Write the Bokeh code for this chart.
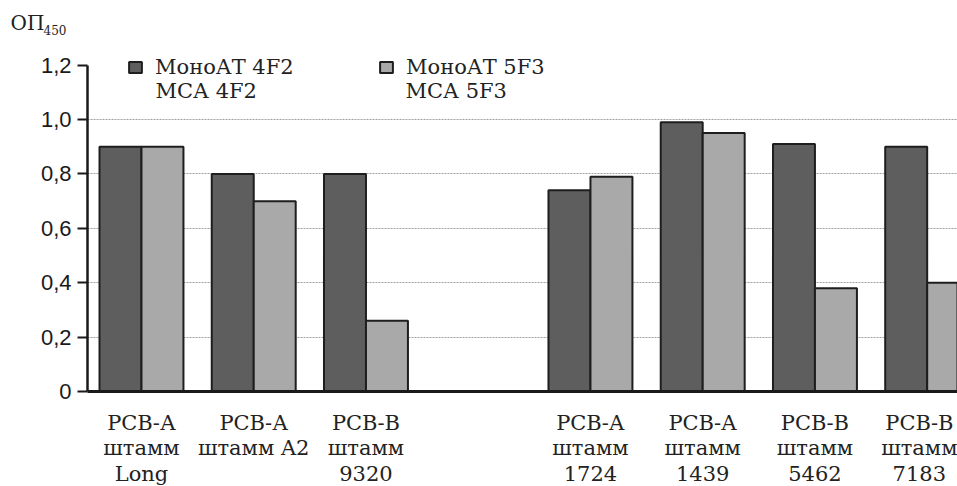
from bokeh.plotting import figure
from bokeh.models import (Range1d, FixedTicker, Label, Legend, LegendItem, LinearAxis,
                          ColumnDataSource, CustomJSTickFormatter, Grid)
from bokeh.transform import dodge
from bokeh.embed import file_html
from bokeh.resources import INLINE

# ---- data ----
categories = ["РСВ-А\nштамм\nLong", "РСВ-А\nштамм A2", "РСВ-В\nштамм\n9320",
              "РСВ-А\nштамм\n1724", "РСВ-А\nштамм\n1439", "РСВ-В\nштамм\n5462",
              "РСВ-В\nштамм\n7183"]
slots = [0, 1, 2, 4, 5, 6, 7]          # slot 3 is an empty gap in the original
mono_4f2 = [0.90, 0.80, 0.80, 0.74, 0.99, 0.91, 0.90]
mono_5f3 = [0.90, 0.70, 0.26, 0.79, 0.95, 0.38, 0.40]
y_ticks = [0, 0.2, 0.4, 0.6, 0.8, 1.0, 1.2]
grid_ticks = [0.2, 0.4, 0.6, 0.8, 1.0]
series_names = ["МоноАТ 4F2", "МоноАТ 5F3"]
series_second = ["МСА 4F2", "МСА 5F3"]

src = ColumnDataSource(dict(x=slots, a=mono_4f2, b=mono_5f3))

SERIF = "DejaVu Serif"
SANS = "Liberation Sans"
INK = "#222222"

W, H = 957, 486
X0, X1 = -1.256, 7.27
Y0, Y1 = -0.349, 1.4375
AX = -0.481

p = figure(width=W, height=H, output_backend="svg", toolbar_location=None,
           x_range=Range1d(X0, X1), y_range=Range1d(Y0, Y1),
           x_axis_location=None, y_axis_location=None,
           min_border_left=0, min_border_right=0, min_border_top=0,
           min_border_bottom=0)
p.outline_line_color = None
p.background_fill_color = "white"
p.xgrid.visible = False
p.ygrid.visible = False

yg = Grid(dimension=1, ticker=FixedTicker(ticks=grid_ticks), grid_line_color="#a0a0a0",
          grid_line_dash="2 1", grid_line_width=1.2)
try:
    yg.cross_bounds = (AX, X1)
except Exception:
    pass
p.add_layout(yg)

bw = 0.374
r1 = p.vbar(x=dodge('x', -bw / 2), top='a', width=bw, source=src,
            fill_color="#5e5e5e", line_color="#1e1e1e", line_width=2)
r2 = p.vbar(x=dodge('x', bw / 2), top='b', width=bw, source=src,
            fill_color="#a9a9a9", line_color="#1e1e1e", line_width=2)

# y axis
yax = LinearAxis(fixed_location=AX, bounds=(0, 1.2))
yax.ticker = FixedTicker(ticks=y_ticks)
yax.formatter = CustomJSTickFormatter(
    code="return tick == 0 ? '0' : tick.toFixed(1).replace('.', ',');")
yax.axis_line_width = 2.5
yax.axis_line_color = "#1a1a1a"
yax.major_tick_line_width = 2
yax.major_tick_line_color = "#1a1a1a"
yax.major_tick_out = 10
yax.major_tick_in = 0
yax.minor_tick_line_color = None
yax.major_label_text_font = SANS
yax.major_label_text_font_size = "22px"
yax.major_label_text_color = "#1a1a1a"
yax.major_label_standoff = 6
p.add_layout(yax, "left")

# x axis
xax = LinearAxis(fixed_location=0, bounds=(AX, X1))
xax.ticker = FixedTicker(ticks=slots)
xax.formatter = CustomJSTickFormatter(
    args=dict(labels=categories, pos=slots),
    code="const i = pos.indexOf(Math.round(tick)); return i >= 0 ? labels[i] : '';")
xax.axis_line_width = 3
xax.axis_line_color = "#1a1a1a"
xax.major_tick_line_color = None
xax.minor_tick_line_color = None
xax.major_label_text_font = SERIF
xax.major_label_text_font_size = "21px"
xax.major_label_text_color = INK
xax.major_label_text_line_height = 1.08
xax.major_label_standoff = 13
p.add_layout(xax, "below")

# legends
for r, name, xloc in [(r1, series_names[0], 127), (r2, series_names[1], 378)]:
    leg = Legend(items=[LegendItem(label=name, renderers=[r])], location=(xloc, 407),
                 border_line_color=None, background_fill_alpha=0, padding=0, margin=0,
                 glyph_width=16, glyph_height=14, label_standoff=12,
                 label_text_font=SERIF, label_text_font_size="21px",
                 label_text_color=INK, spacing=0)
    p.add_layout(leg)

for txt, xs in [(series_second[0], 155), (series_second[1], 405)]:
    p.add_layout(Label(x=xs, y=396, x_units="screen", y_units="screen", text=txt,
                       text_font=SERIF, text_font_size="21px", text_color=INK,
                       text_baseline="alphabetic"))

# y title  ОП with subscript 450
p.add_layout(Label(x=10, y=464, x_units="screen", y_units="screen", text="ОП",
                   text_font=SERIF, text_font_size="20px", text_color=INK,
                   text_baseline="alphabetic"))
p.add_layout(Label(x=43, y=457, x_units="screen", y_units="screen", text="450",
                   text_font=SERIF, text_font_size="12px", text_color=INK,
                   text_baseline="alphabetic"))

open("out.html", "w").write(file_html(p, INLINE))
